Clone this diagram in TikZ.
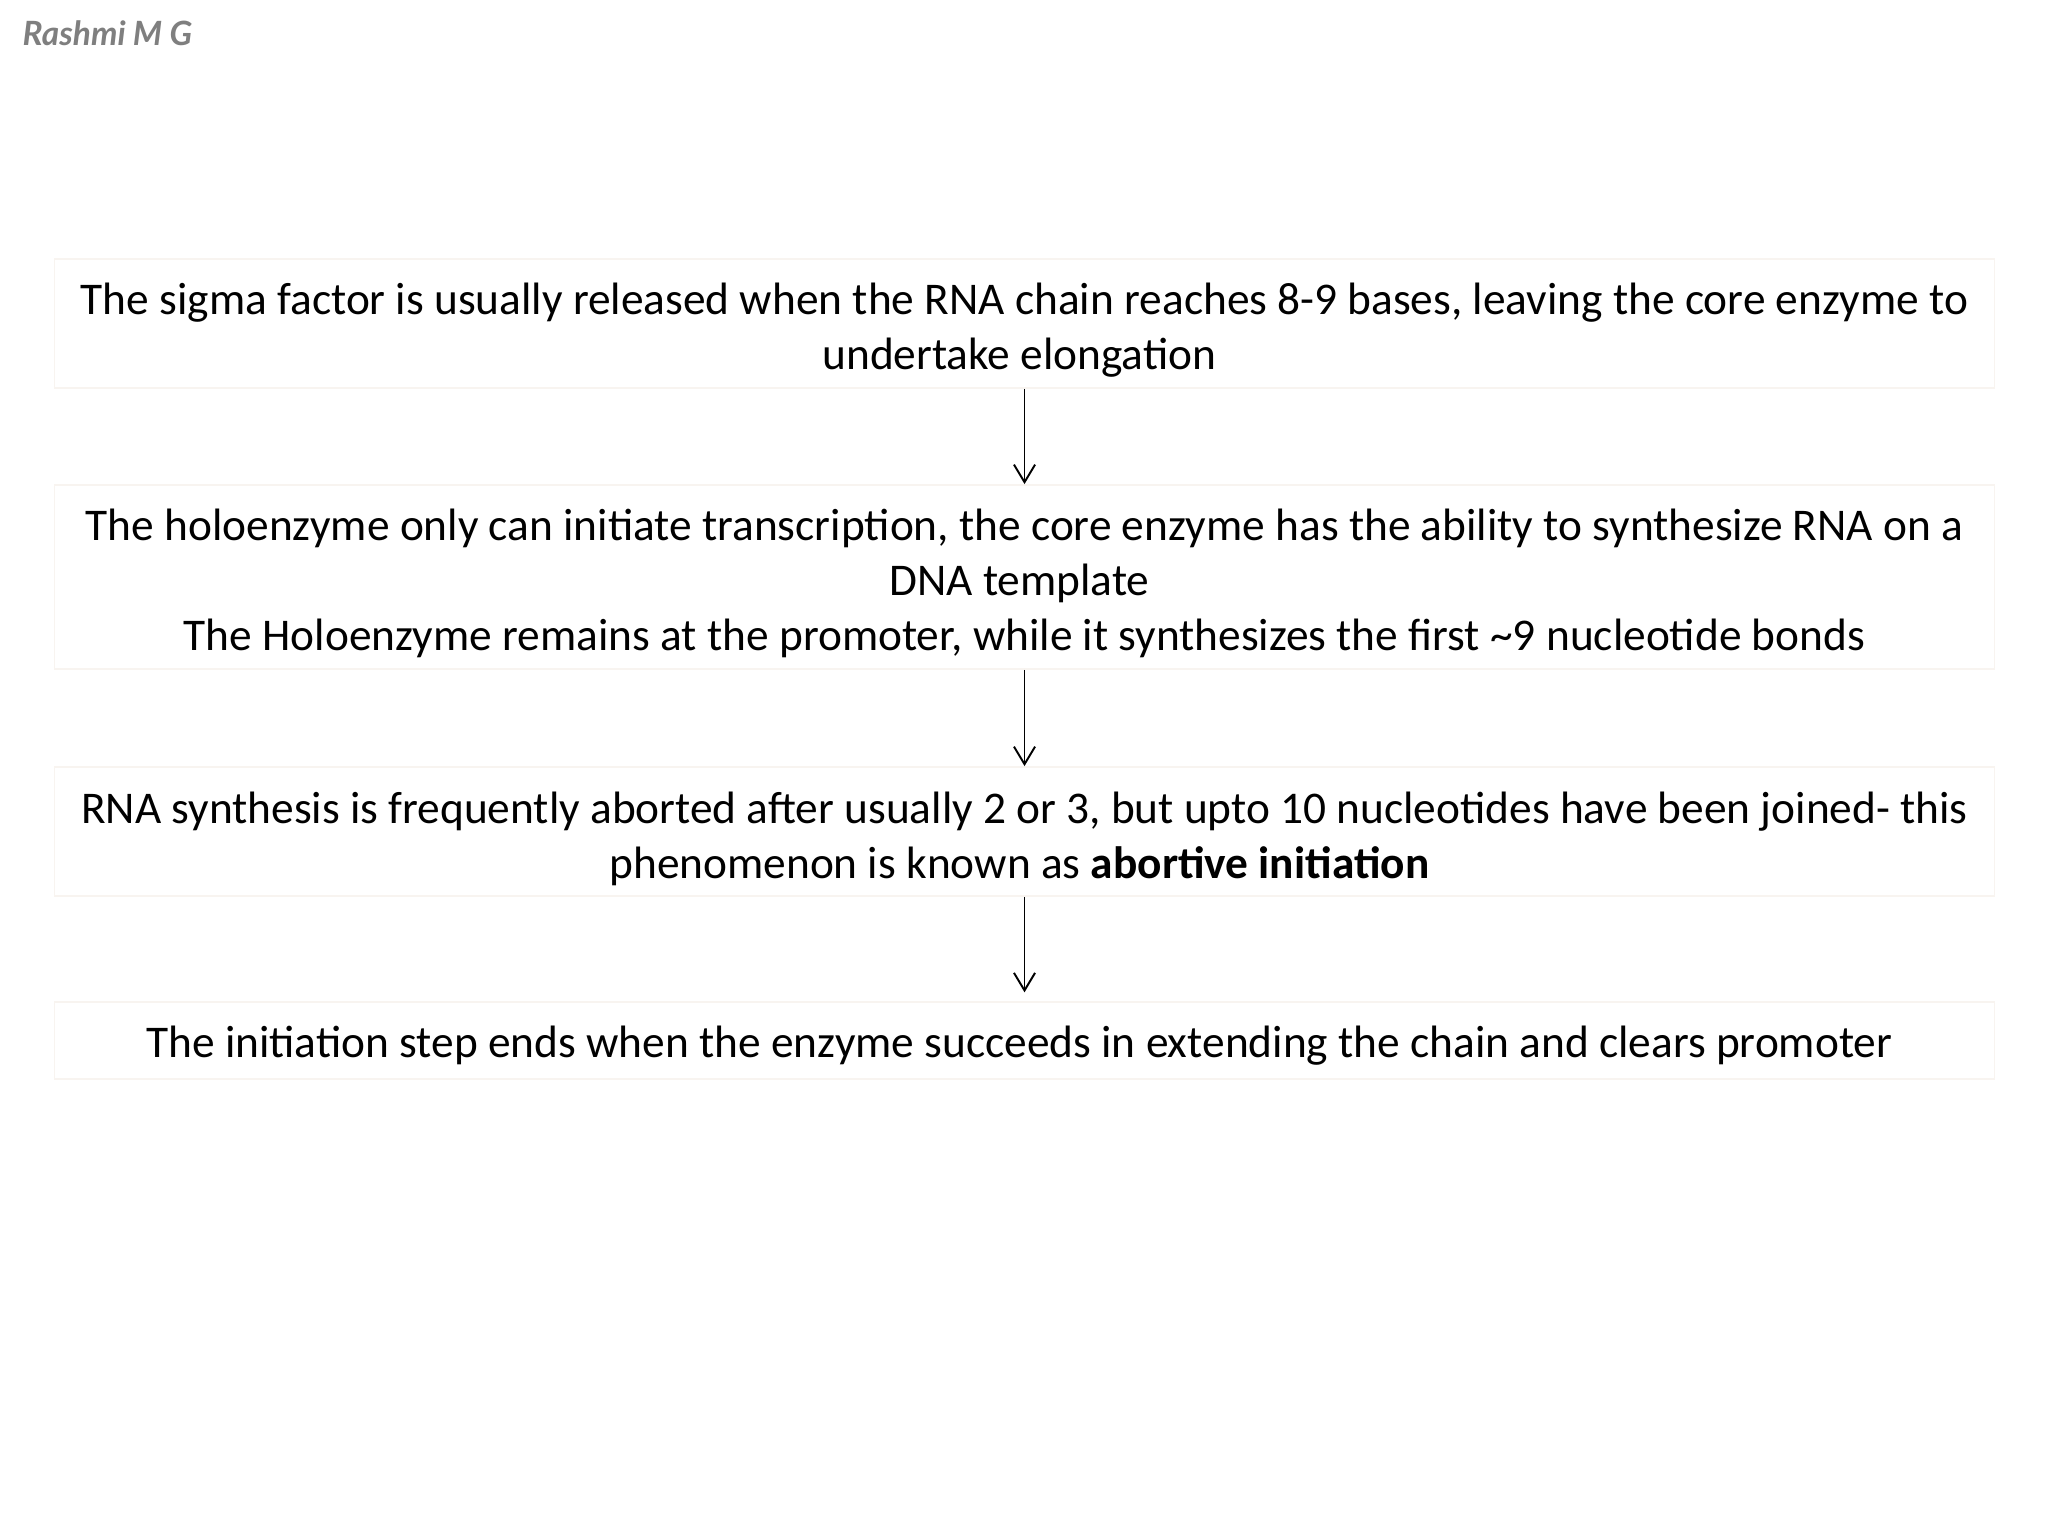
\documentclass[tikz,border=0pt]{standalone}
\usepackage{fontspec}
\setmainfont{Carlito}
\newfontfamily\latofont{Lato}
\usetikzlibrary{arrows.meta}
\definecolor{boxline}{HTML}{F8F4F0}
\definecolor{authgray}{HTML}{7F7F7F}
\newcommand\trailsp{\kern\fontdimen2\font\null}
\tikzset{
  stepbox/.style={draw=boxline, line width=0.5pt, fill=white, inner sep=0pt,
    minimum width=19.39cm},
  steptext/.style={inner sep=0pt, align=center, font=\fontsize{12.9}{15.65}\selectfont},
  flowarrow/.style={draw=black, line width=0.55pt, -{Straight Barb[length=5pt,width=6pt,line width=0.55pt]}}
}
\begin{document}
\begin{tikzpicture}[x=0.01cm,y=-0.01cm]
\useasboundingbox[fill=white] (0,0) rectangle (2048,1536);
\node[anchor=west, inner sep=0pt, text=authgray, font=\latofont\bfseries\itshape\fontsize{9.5}{11}\selectfont] (author) at (22,33) {Rashmi M G};
\node[stepbox, minimum height=1.29cm] (b1) at (1024.5,323.5) {};
\node[stepbox, minimum height=1.84cm] (b2) at (1024.5,577) {};
\node[stepbox, minimum height=1.29cm] (b3) at (1024.5,831.5) {};
\node[stepbox, minimum height=0.77cm] (b4) at (1024.5,1040.5) {};
\node[steptext] (t1) at ([yshift=-0.07cm]b1.center)
  {The sigma factor is usually released when the RNA chain reaches 8-9 bases, leaving the core enzyme to\\undertake elongation\trailsp};
\node[steptext] (t2) at ([yshift=-0.06cm]b2.center)
  {The holoenzyme only can initiate transcription, the core enzyme has the ability to synthesize RNA on a\\DNA template\trailsp\\The Holoenzyme remains at the promoter, while it synthesizes the first \textasciitilde9 nucleotide bonds};
\node[steptext] (t3) at ([yshift=-0.07cm]b3.center)
  {RNA synthesis is frequently aborted after usually 2 or 3, but upto 10 nucleotides have been joined- this\\phenomenon is known as \textbf{abortive initiation}\trailsp};
\node[steptext] (t4) at ([yshift=-0.05cm]b4.center)
  {The initiation step ends when the enzyme succeeds in extending the chain and clears promoter\trailsp};
\draw[flowarrow] (b1.south) -- (b2.north);
\draw[flowarrow] (b2.south) -- (b3.north);
\draw[flowarrow, shorten >=2.5pt] (b3.south) -- (b4.north);
\end{tikzpicture}
\end{document}
